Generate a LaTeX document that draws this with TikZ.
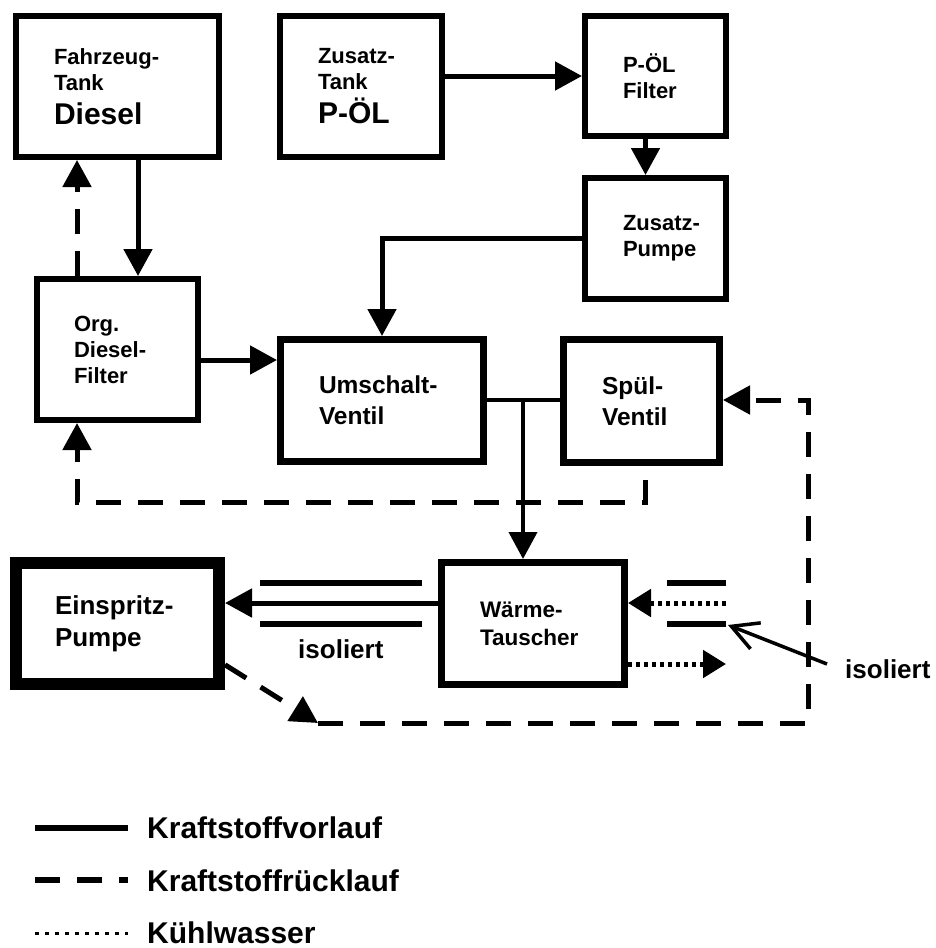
\documentclass[tikz,border=0pt]{standalone}
\usepackage{fontspec}
\setmainfont{Liberation Sans}
\usepackage{tikz}
\usetikzlibrary{arrows.meta}

\tikzset{
    box/.style={draw, line width=6pt, align=left, inner xsep=38pt, inner ysep=0pt,
        font=\bfseries\fontsize{22}{26}\selectfont},
    flow/.style={line width=5pt, -{Triangle[length=27pt,width=28pt]}},
    back/.style={line width=5pt, dash pattern=on 25pt off 17pt,
        -{Triangle[length=27pt,width=28pt]}},
    cool/.style={line width=5pt, dash pattern=on 4pt off 4pt,
        -{Triangle[length=23pt,width=27pt]}},
    iso/.style={line width=6pt},
    lbl/.style={font=\bfseries\fontsize{26}{30}\selectfont, inner sep=0pt},
    leg/.style={font=\bfseries\fontsize{30}{34}\selectfont, inner sep=0pt, anchor=base west}
}

\begin{document}
\begin{tikzpicture}[x=1pt, y=-1pt]
        \useasboundingbox (0,0) rectangle (936,948);

        \node[box, text width=127, minimum height=141] (tank) at (117.5,86.5)
            {Fahrzeug-\\Tank\\[8pt]{\fontsize{30}{32}\selectfont Diesel}};
        \node[box, text width=86, minimum height=141] (ztank) at (361,86.5)
            {Zusatz-\\Tank\\[8pt]{\fontsize{30}{32}\selectfont P-ÖL}};
        \node[box, text width=65, minimum height=120] (pfilter) at (655.5,76)
            {\mbox{P-ÖL}\\Filter};
        \node[box, text width=65, minimum height=121] (zpumpe) at (655.5,238.5)
            {\mbox{Zusatz-}\\Pumpe};
        \node[box, text width=87, inner xsep=37pt, minimum height=141] (filter) at (117.5,349.5)
            {Org.\\Diesel-\\Filter};
        \node[box, line width=7pt, text width=126, inner xsep=38.5pt, minimum height=122,
            font=\bfseries\fontsize{24.5}{31}\selectfont] (umschalt) at (382,400.5)
            {Umschalt-\\Ventil};
        \node[box, line width=7pt, text width=79, inner xsep=38.5pt, minimum height=123,
            font=\bfseries\fontsize{24.5}{31}\selectfont] (spuel) at (641.5,401)
            {Spül-\\Ventil};
        \node[box, line width=12pt, text width=125, inner xsep=39pt, minimum height=121,
            font=\bfseries\fontsize{26}{32}\selectfont] (pump) at (117.5,623.5)
            {Einspritz-\\Pumpe};
        \node[box, line width=7pt, text width=106, inner xsep=38.5pt, minimum height=122,
            font=\bfseries\fontsize{22.5}{28}\selectfont] (waerme) at (533,623.5)
            {Wärme-\\Tauscher};

        \coordinate (dl) at (138,0);
        \coordinate (fr) at (77,502);
        \coordinate (fu) at (240,360);
        \coordinate (tj) at (523,400);
        \coordinate (wp) at (330,603);
        \coordinate (s1) at (645,480);
        \coordinate (rt) at (318,723);
        \coordinate (rc) at (808,400);
        \coordinate (kin) at (726,603);
        \coordinate (kout) at (726,664);
        \coordinate (ir) at (728,625);
        \coordinate (ia) at (827,664);

        \draw[flow] (tank.south -| dl) -- (filter.north -| dl);
        \draw[back] (filter.north -| fr) -- (tank.south -| fr);
        \draw[flow] (ztank.east |- pfilter.west) -- (pfilter.west);
        \draw[flow] ([xshift=-10pt]pfilter.south) -- ([xshift=-10pt]zpumpe.north);
        \draw[flow] (zpumpe.west) -| (umschalt.north);
        \draw[flow] (filter.east |- fu) -- (umschalt.west |- fu);
        \draw[line width=4pt] (umschalt.east |- tj) -- (spuel.west |- tj);
        \draw[flow, line width=4pt] (tj) -- (tj |- waerme.north);
        \draw[back] (s1) |- (fr) -- (fr |- filter.south);
        \draw[flow] (waerme.west |- wp) -- (pump.east |- wp);
        \draw[back] (pump.-21) -- (rt);
        \draw[back] (rt) -| (rc) -- (spuel.east |- rc);

        \draw[iso] (260,583) -- (422,583);
        \draw[iso] (260,624) -- (422,624);
        \node[lbl, anchor=base west] (iso1) at (298,658) {isoliert};

        \draw[iso] (667,583) -- (726,583);
        \draw[iso] (667,624) -- (726,624);
        \draw[cool] (kin) -- (waerme.east |- kin);
        \draw[cool] (waerme.east |- kout) -- (kout);
        \draw[line width=3.5pt, -{Straight Barb[length=26pt,width=28pt]}] (ia) -- (ir);
        \node[lbl, anchor=base west] (iso2) at (845,678) {isoliert};

        \draw[line width=6pt] (35,828) -- (128,828);
        \node[leg] (l1) at (147,838) {Kraftstoffvorlauf};
        \draw[line width=6pt, dash pattern=on 25pt off 17pt] (35,880) -- (128,880);
        \node[leg] (l2) at (147,891) {Kraftstoffrücklauf};
        \draw[line width=3pt, dash pattern=on 4pt off 6pt] (35,933) -- (128,933);
        \node[leg] (l3) at (147,943) {Kühlwasser};
\end{tikzpicture}
\end{document}
